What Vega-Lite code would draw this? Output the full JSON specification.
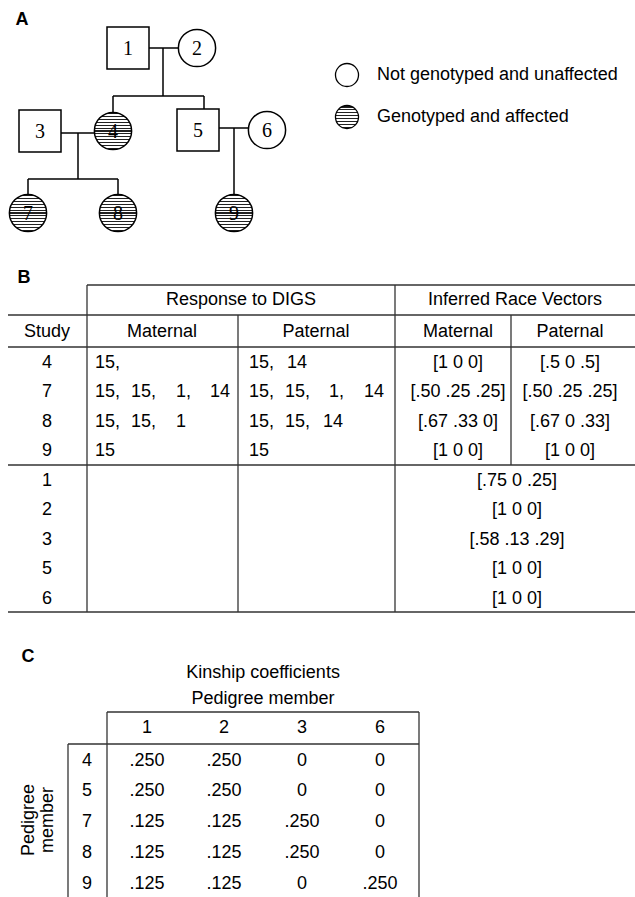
{
  "$schema": "https://vega.github.io/schema/vega-lite/v6.json",
  "width": 635,
  "height": 897,
  "autosize": "none",
  "padding": 0,
  "background": "white",
  "config": {"view": {"stroke": null}},
  "datasets": {
    "lines": [
      {"part": "pedigree", "x": 128, "y": 48, "x2": 197, "y2": 48},
      {"part": "pedigree", "x": 163, "y": 48, "x2": 163, "y2": 96},
      {"part": "pedigree", "x": 113, "y": 96, "x2": 204, "y2": 96},
      {"part": "pedigree", "x": 113, "y": 96, "x2": 113, "y2": 131},
      {"part": "pedigree", "x": 204, "y": 96, "x2": 204, "y2": 130},
      {"part": "pedigree", "x": 40, "y": 133, "x2": 113, "y2": 133},
      {"part": "pedigree", "x": 198, "y": 128, "x2": 267, "y2": 128},
      {"part": "pedigree", "x": 78, "y": 133, "x2": 78, "y2": 179},
      {"part": "pedigree", "x": 28, "y": 179, "x2": 118, "y2": 179},
      {"part": "pedigree", "x": 28, "y": 179, "x2": 28, "y2": 213},
      {"part": "pedigree", "x": 118, "y": 179, "x2": 118, "y2": 213},
      {"part": "pedigree", "x": 234, "y": 128, "x2": 234, "y2": 213},
      {"part": "table", "x": 87, "y": 285, "x2": 635, "y2": 285},
      {"part": "table", "x": 8, "y": 315, "x2": 635, "y2": 315},
      {"part": "table", "x": 8, "y": 347, "x2": 635, "y2": 347},
      {"part": "table", "x": 8, "y": 465, "x2": 635, "y2": 465},
      {"part": "table", "x": 8, "y": 612, "x2": 635, "y2": 612},
      {"part": "table", "x": 87, "y": 285, "x2": 87, "y2": 612},
      {"part": "table", "x": 238, "y": 315, "x2": 238, "y2": 612},
      {"part": "table", "x": 395, "y": 285, "x2": 395, "y2": 612},
      {"part": "table", "x": 511, "y": 315, "x2": 511, "y2": 465},
      {"part": "table", "x": 107, "y": 712, "x2": 419, "y2": 712},
      {"part": "table", "x": 68, "y": 744, "x2": 419, "y2": 744},
      {"part": "table", "x": 107, "y": 712, "x2": 107, "y2": 897},
      {"part": "table", "x": 419, "y": 712, "x2": 419, "y2": 897},
      {"part": "table", "x": 68, "y": 744, "x2": 68, "y2": 897}
    ],
    "nodes": [
      {"id": "1", "sex": "male", "affected": false, "x": 128, "y": 48},
      {"id": "2", "sex": "female", "affected": false, "x": 197, "y": 48},
      {"id": "3", "sex": "male", "affected": false, "x": 40, "y": 131},
      {"id": "4", "sex": "female", "affected": true, "x": 113, "y": 131},
      {"id": "5", "sex": "male", "affected": false, "x": 198, "y": 130},
      {"id": "6", "sex": "female", "affected": false, "x": 267, "y": 130},
      {"id": "7", "sex": "female", "affected": true, "x": 28, "y": 213},
      {"id": "8", "sex": "female", "affected": true, "x": 118, "y": 213},
      {"id": "9", "sex": "female", "affected": true, "x": 234, "y": 213}
    ],
    "legend": [
      {"label": "Not genotyped and unaffected", "affected": false, "x": 347, "y": 75, "tx": 377},
      {"label": "Genotyped and affected", "affected": true, "x": 347, "y": 117, "tx": 377}
    ],
    "texts": [
      {"role": "panel", "text": "A", "x": 22, "y": 20},
      {"role": "panel", "text": "B", "x": 24, "y": 278},
      {"role": "panel", "text": "C", "x": 28, "y": 657},
      {"role": "cell", "text": "Response to DIGS", "x": 241, "y": 300},
      {"role": "cell", "text": "Inferred Race Vectors", "x": 515, "y": 300},
      {"role": "cell", "text": "Study", "x": 47, "y": 332},
      {"role": "cell", "text": "Maternal", "x": 162, "y": 332},
      {"role": "cell", "text": "Paternal", "x": 316, "y": 332},
      {"role": "cell", "text": "Maternal", "x": 458, "y": 332},
      {"role": "cell", "text": "Paternal", "x": 570, "y": 332},
      {"role": "cell", "text": "4", "x": 47, "y": 363},
      {"role": "cell", "text": "7", "x": 47, "y": 392},
      {"role": "cell", "text": "8", "x": 47, "y": 422},
      {"role": "cell", "text": "9", "x": 47, "y": 451},
      {"role": "cell", "text": "1", "x": 47, "y": 481},
      {"role": "cell", "text": "2", "x": 47, "y": 510},
      {"role": "cell", "text": "3", "x": 47, "y": 540},
      {"role": "cell", "text": "5", "x": 47, "y": 569},
      {"role": "cell", "text": "6", "x": 47, "y": 599},
      {"role": "cell", "text": "[1 0 0]", "x": 458, "y": 363},
      {"role": "cell", "text": "[.5 0 .5]", "x": 570, "y": 363},
      {"role": "cell", "text": "[.50 .25 .25]", "x": 458, "y": 392},
      {"role": "cell", "text": "[.50 .25 .25]", "x": 570, "y": 392},
      {"role": "cell", "text": "[.67 .33 0]", "x": 458, "y": 422},
      {"role": "cell", "text": "[.67 0 .33]", "x": 570, "y": 422},
      {"role": "cell", "text": "[1 0 0]", "x": 458, "y": 451},
      {"role": "cell", "text": "[1 0 0]", "x": 570, "y": 451},
      {"role": "cell", "text": "[.75 0 .25]", "x": 517, "y": 481},
      {"role": "cell", "text": "[1 0 0]", "x": 517, "y": 510},
      {"role": "cell", "text": "[.58 .13 .29]", "x": 517, "y": 540},
      {"role": "cell", "text": "[1 0 0]", "x": 517, "y": 569},
      {"role": "cell", "text": "[1 0 0]", "x": 517, "y": 599},
      {"role": "cell", "text": "Kinship coefficients", "x": 263, "y": 673},
      {"role": "cell", "text": "Pedigree member", "x": 263, "y": 699},
      {"role": "cell", "text": "1", "x": 147, "y": 728},
      {"role": "cell", "text": "2", "x": 224, "y": 728},
      {"role": "cell", "text": "3", "x": 302, "y": 728},
      {"role": "cell", "text": "6", "x": 380, "y": 728},
      {"role": "cell", "text": "4", "x": 87, "y": 761},
      {"role": "cell", "text": "5", "x": 87, "y": 791},
      {"role": "cell", "text": "7", "x": 87, "y": 822},
      {"role": "cell", "text": "8", "x": 87, "y": 853},
      {"role": "cell", "text": "9", "x": 87, "y": 884},
      {"role": "cell", "text": ".250", "x": 147, "y": 761},
      {"role": "cell", "text": ".250", "x": 224, "y": 761},
      {"role": "cell", "text": "0", "x": 302, "y": 761},
      {"role": "cell", "text": "0", "x": 380, "y": 761},
      {"role": "cell", "text": ".250", "x": 147, "y": 791},
      {"role": "cell", "text": ".250", "x": 224, "y": 791},
      {"role": "cell", "text": "0", "x": 302, "y": 791},
      {"role": "cell", "text": "0", "x": 380, "y": 791},
      {"role": "cell", "text": ".125", "x": 147, "y": 822},
      {"role": "cell", "text": ".125", "x": 224, "y": 822},
      {"role": "cell", "text": ".250", "x": 302, "y": 822},
      {"role": "cell", "text": "0", "x": 380, "y": 822},
      {"role": "cell", "text": ".125", "x": 147, "y": 853},
      {"role": "cell", "text": ".125", "x": 224, "y": 853},
      {"role": "cell", "text": ".250", "x": 302, "y": 853},
      {"role": "cell", "text": "0", "x": 380, "y": 853},
      {"role": "cell", "text": ".125", "x": 147, "y": 884},
      {"role": "cell", "text": ".125", "x": 224, "y": 884},
      {"role": "cell", "text": "0", "x": 302, "y": 884},
      {"role": "cell", "text": ".250", "x": 380, "y": 884}
    ],
    "tokens": [
      {"text": "15,", "x": 95, "y": 363},
      {"text": "15,", "x": 249, "y": 363},
      {"text": "14", "x": 287, "y": 363},
      {"text": "15,", "x": 95, "y": 392},
      {"text": "15,", "x": 131, "y": 392},
      {"text": "1,", "x": 176, "y": 392},
      {"text": "14", "x": 210, "y": 392},
      {"text": "15,", "x": 249, "y": 392},
      {"text": "15,", "x": 285, "y": 392},
      {"text": "1,", "x": 329, "y": 392},
      {"text": "14", "x": 364, "y": 392},
      {"text": "15,", "x": 95, "y": 422},
      {"text": "15,", "x": 131, "y": 422},
      {"text": "1", "x": 176, "y": 422},
      {"text": "15,", "x": 249, "y": 422},
      {"text": "15,", "x": 285, "y": 422},
      {"text": "14", "x": 323, "y": 422},
      {"text": "15", "x": 95, "y": 451},
      {"text": "15", "x": 249, "y": 451}
    ],
    "rotated": [
      {"text": "Pedigree", "x": 29, "y": 820},
      {"text": "member", "x": 48, "y": 820}
    ]
  },
  "encoding": {
    "x": {"field": "x", "type": "quantitative", "axis": null, "scale": {"domain": [0, 635], "nice": false, "zero": false}},
    "y": {"field": "y", "type": "quantitative", "axis": null, "scale": {"domain": [0, 897], "nice": false, "zero": false, "reverse": true}}
  },
  "layer": [
    {
      "data": {"name": "lines"},
      "transform": [{"filter": "datum.part == 'pedigree'"}],
      "mark": {"type": "rule", "stroke": "black", "strokeWidth": 1.5},
      "encoding": {"x2": {"field": "x2"}, "y2": {"field": "y2"}}
    },
    {
      "data": {"name": "lines"},
      "transform": [{"filter": "datum.part == 'table'"}],
      "mark": {"type": "rule", "stroke": "#333333", "strokeWidth": 1.3},
      "encoding": {"x2": {"field": "x2"}, "y2": {"field": "y2"}}
    },
    {
      "data": {"name": "nodes"},
      "transform": [{"filter": "!datum.affected"}],
      "mark": {"type": "point", "filled": true, "fill": "white", "stroke": "black", "strokeWidth": 1.5, "opacity": 1},
      "encoding": {
        "shape": {"field": "sex", "type": "nominal", "scale": {"domain": ["male", "female"], "range": ["square", "circle"]}, "legend": null},
        "size": {"field": "sex", "type": "nominal", "scale": {"domain": ["male", "female"], "range": [1764, 1385]}, "legend": null}
      }
    },
    {
      "data": {"name": "nodes"},
      "transform": [{"filter": "datum.affected"}],
      "mark": {
        "type": "point", "shape": "circle", "size": 1385, "filled": true, "opacity": 1,
        "stroke": "black", "strokeWidth": 1.5,
        "fill": {
          "gradient": "linear", "x1": 0, "y1": 0, "x2": 0, "y2": 1,
          "stops": [
            {"offset": 0, "color": "white"}, {"offset": 0.0231, "color": "white"},
            {"offset": 0.0231, "color": "#222222"}, {"offset": 0.0538, "color": "#222222"},
            {"offset": 0.0538, "color": "white"}, {"offset": 0.1, "color": "white"},
            {"offset": 0.1, "color": "#222222"}, {"offset": 0.1308, "color": "#222222"},
            {"offset": 0.1308, "color": "white"}, {"offset": 0.1769, "color": "white"},
            {"offset": 0.1769, "color": "#222222"}, {"offset": 0.2077, "color": "#222222"},
            {"offset": 0.2077, "color": "white"}, {"offset": 0.2538, "color": "white"},
            {"offset": 0.2538, "color": "#222222"}, {"offset": 0.2846, "color": "#222222"},
            {"offset": 0.2846, "color": "white"}, {"offset": 0.3308, "color": "white"},
            {"offset": 0.3308, "color": "#222222"}, {"offset": 0.3615, "color": "#222222"},
            {"offset": 0.3615, "color": "white"}, {"offset": 0.4077, "color": "white"},
            {"offset": 0.4077, "color": "#222222"}, {"offset": 0.4385, "color": "#222222"},
            {"offset": 0.4385, "color": "white"}, {"offset": 0.4846, "color": "white"},
            {"offset": 0.4846, "color": "#222222"}, {"offset": 0.5154, "color": "#222222"},
            {"offset": 0.5154, "color": "white"}, {"offset": 0.5615, "color": "white"},
            {"offset": 0.5615, "color": "#222222"}, {"offset": 0.5923, "color": "#222222"},
            {"offset": 0.5923, "color": "white"}, {"offset": 0.6385, "color": "white"},
            {"offset": 0.6385, "color": "#222222"}, {"offset": 0.6692, "color": "#222222"},
            {"offset": 0.6692, "color": "white"}, {"offset": 0.7154, "color": "white"},
            {"offset": 0.7154, "color": "#222222"}, {"offset": 0.7462, "color": "#222222"},
            {"offset": 0.7462, "color": "white"}, {"offset": 0.7923, "color": "white"},
            {"offset": 0.7923, "color": "#222222"}, {"offset": 0.8231, "color": "#222222"},
            {"offset": 0.8231, "color": "white"}, {"offset": 0.8692, "color": "white"},
            {"offset": 0.8692, "color": "#222222"}, {"offset": 0.9, "color": "#222222"},
            {"offset": 0.9, "color": "white"}, {"offset": 0.9462, "color": "white"},
            {"offset": 0.9462, "color": "#222222"}, {"offset": 0.9769, "color": "#222222"},
            {"offset": 0.9769, "color": "white"}, {"offset": 1, "color": "white"}
          ]
        }
      }
    },
    {
      "data": {"name": "nodes"},
      "mark": {"type": "text", "font": "Liberation Serif", "fontSize": 20, "align": "center", "baseline": "middle", "dy": 1, "color": "black"},
      "encoding": {"text": {"field": "id"}}
    },
    {
      "data": {"name": "legend"},
      "transform": [{"filter": "!datum.affected"}],
      "mark": {"type": "point", "shape": "circle", "size": 531, "filled": true, "fill": "white", "stroke": "black", "strokeWidth": 1.3, "opacity": 1}
    },
    {
      "data": {"name": "legend"},
      "transform": [{"filter": "datum.affected"}],
      "mark": {
        "type": "point", "shape": "circle", "size": 531, "filled": true, "opacity": 1,
        "stroke": "black", "strokeWidth": 1.3,
        "fill": {
          "gradient": "linear", "x1": 0, "y1": 0, "x2": 0, "y2": 1,
          "stops": [
            {"offset": 0, "color": "white"}, {"offset": 0.04, "color": "white"},
            {"offset": 0.04, "color": "#222222"}, {"offset": 0.09, "color": "#222222"},
            {"offset": 0.09, "color": "white"}, {"offset": 0.165, "color": "white"},
            {"offset": 0.165, "color": "#222222"}, {"offset": 0.215, "color": "#222222"},
            {"offset": 0.215, "color": "white"}, {"offset": 0.29, "color": "white"},
            {"offset": 0.29, "color": "#222222"}, {"offset": 0.34, "color": "#222222"},
            {"offset": 0.34, "color": "white"}, {"offset": 0.415, "color": "white"},
            {"offset": 0.415, "color": "#222222"}, {"offset": 0.465, "color": "#222222"},
            {"offset": 0.465, "color": "white"}, {"offset": 0.54, "color": "white"},
            {"offset": 0.54, "color": "#222222"}, {"offset": 0.59, "color": "#222222"},
            {"offset": 0.59, "color": "white"}, {"offset": 0.665, "color": "white"},
            {"offset": 0.665, "color": "#222222"}, {"offset": 0.715, "color": "#222222"},
            {"offset": 0.715, "color": "white"}, {"offset": 0.79, "color": "white"},
            {"offset": 0.79, "color": "#222222"}, {"offset": 0.84, "color": "#222222"},
            {"offset": 0.84, "color": "white"}, {"offset": 0.915, "color": "white"},
            {"offset": 0.915, "color": "#222222"}, {"offset": 0.965, "color": "#222222"},
            {"offset": 0.965, "color": "white"}, {"offset": 1, "color": "white"}
          ]
        }
      }
    },
    {
      "data": {"name": "legend"},
      "mark": {"type": "text", "font": "Liberation Sans", "fontSize": 18, "align": "left", "baseline": "middle", "color": "black"},
      "encoding": {"x": {"field": "tx", "type": "quantitative"}, "text": {"field": "label"}}
    },
    {
      "data": {"name": "texts"},
      "transform": [{"filter": "datum.role == 'panel'"}],
      "mark": {"type": "text", "font": "Liberation Sans", "fontSize": 18, "fontWeight": "bold", "align": "center", "baseline": "middle", "color": "black"},
      "encoding": {"text": {"field": "text"}}
    },
    {
      "data": {"name": "texts"},
      "transform": [{"filter": "datum.role == 'cell'"}],
      "mark": {"type": "text", "font": "Liberation Sans", "fontSize": 18, "align": "center", "baseline": "middle", "color": "black"},
      "encoding": {"text": {"field": "text"}}
    },
    {
      "data": {"name": "tokens"},
      "mark": {"type": "text", "font": "Liberation Sans", "fontSize": 18, "align": "left", "baseline": "middle", "color": "black"},
      "encoding": {"text": {"field": "text"}}
    },
    {
      "data": {"name": "rotated"},
      "mark": {"type": "text", "font": "Liberation Sans", "fontSize": 18, "align": "center", "baseline": "middle", "angle": 270, "color": "black"},
      "encoding": {"text": {"field": "text"}}
    }
  ]
}
